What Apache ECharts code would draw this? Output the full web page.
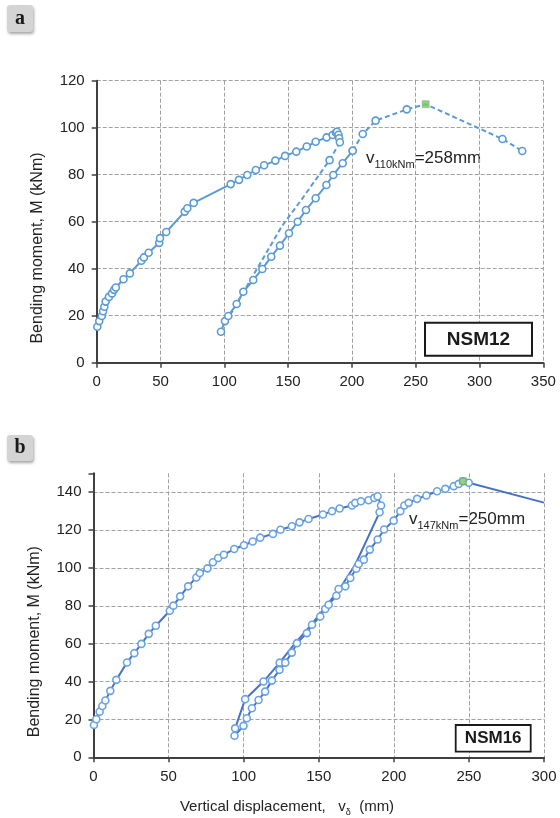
<!DOCTYPE html>
<html>
<head>
<meta charset="utf-8">
<script src="https://cdn.jsdelivr.net/npm/echarts@6/dist/echarts.min.js"></script>
<style>html,body{margin:0;padding:0;background:#fff}#c{width:560px;height:818px}</style>
</head>
<body>
<div id="c"></div>
<script>
// ---- Panel a (NSM12) ----
const aLoadV = [0.5,2,4,5,6,7,9.6,12,13.6,15,21,26,35,37,40.7,49,49.6,54.5,69,71,76,105,111.5,118,124.7,131.2,140,147.6,156.4,164.6,171.6,180.2,184.9,187.5,188.3,189.5,190,190.6];
const aLoadM = [15.3,17.7,19.9,21.9,23.8,26,28,29.5,31,32,35.5,38,43.4,44.8,46.8,51,53,55.6,64.3,65.7,68,76,77.8,79.9,82,84,86,88,89.8,92,94,95.9,96.9,97.9,98.3,97,95.5,93.8];
const aUnloadV = [190.6,182.5,160,145,130,115,100];
const aUnloadM = [93.8,86.2,69,58,44,30,16];
const aReloadV = [97.4,100.5,103.1,109.7,114.9,122.7,129.8,136.8,143.6,150.7,157.5,164,171.6,180,185.4,192.8,200.6];
const aReloadM = [13.2,17.7,19.9,25,30.2,35.2,39.9,45.1,49.8,55.1,60,65,70,75.6,79.9,84.9,90.2];
const aPostV = [200.6,208.5,218.6,243,257.8,318,333.5];
const aPostM = [90.2,97.3,103,107.8,110,95.2,90.1];
const aPeak = [257.8,110];
const aXTicks = [0,50,100,150,200,250,300,350];
const aYTicks = [0,20,40,60,80,100,120];

// ---- Panel b (NSM16) ----
const bLoadV = [0.3,1.9,4.1,5.9,7.9,11.2,15.2,22.3,27.2,31.9,36.8,41.5,50.8,53.2,57.7,63,68.5,70.8,75.9,79.5,83,86.8,93.7,100.2,106,111,119.5,124.5,132.1,137.2,143.2,152.8,158.8,163.9,172.1,174.3,178.1,183.2,187,189.2,191.5,190.5];
const bLoadM = [17.1,20.1,24.1,27.1,30,35.1,40.9,50.1,55,59.9,65.2,69.5,77.4,80.1,85,90.3,95,97.3,99.8,103,105.3,107,110,112,114,116,118,120.2,122,124.1,125.9,128.2,130,131.4,133,134.4,135.2,135.8,137,137.9,133,129.4];
const bUnloadV = [190.5,174.3,163,153,144,134,124,113.2,101,94.3];
const bUnloadM = [129.4,101.7,88,78,69,60,50,40,30.7,15.3];
const bReloadV = [93.9,99.9,102.1,105.5,109.9,114.3,118.8,123.9,127.7,132.1,135.5,142.1,145.5,151,154.3,156.6,161.7,163.2,167.7,171,175,176.6,180,184,189.2,193.5,199.9,204.3,207,209.9,215.5,221.7,228.8,234.3,239.9,243.2,246.1,249.9];
const bReloadM = [11.4,16.6,20.6,25.9,30.3,34.7,40.5,46.2,50,55.3,60.3,65.6,70,74.4,78.3,80.6,85.3,88.9,90.3,94.7,99.6,102.1,104.4,109.7,115,120.3,125,130,133,134.4,136.5,138.3,140.5,141.8,143.2,144.4,145.8,145];
const bPostV = [249.9,300];
const bPostM = [145,134.5];
const bPeak = [246.1,145.8];
const bXTicks = [0,50,100,150,200,250,300];
const bYTicks = [0,20,40,60,80,100,120,140];

const zip = (xs, ys) => xs.map((x, i) => [x, ys[i]]);

const colA = '#5b9bd5';
const colBLine = '#4a72c4';
const colBMark = '#6aa3e4';
const gridCol = '#a0a0a0';
const FONT = 'Liberation Sans, Arial, sans-serif';

function xAxis(gi, ticks, max) {
  return {
    type: 'value', gridIndex: gi, min: 0, max: max, interval: 50,
    axisLine: {show: true, onZero: false, lineStyle: {color: '#404040', width: 2}},
    axisTick: {show: true, length: 5, lineStyle: {color: '#404040', width: 1.5}},
    axisLabel: {margin: 12, color: '#222', fontSize: 15, fontFamily: FONT,
      formatter: v => ticks.indexOf(v) >= 0 ? String(v) : ''},
    splitLine: {show: true, lineStyle: {color: gridCol, type: [4, 2], width: 1}}
  };
}
function yAxis(gi, ticks, max, showMax) {
  return {
    type: 'value', gridIndex: gi, min: 0, max: max, interval: 20,
    axisLine: {show: true, onZero: false, lineStyle: {color: '#404040', width: 2}},
    axisTick: {show: true, length: 5, lineStyle: {color: '#404040', width: 1.5}},
    axisLabel: {margin: 12, color: '#222', fontSize: 15, fontFamily: FONT,
      formatter: v => ticks.indexOf(v) >= 0 ? String(v) : ''},
    splitLine: {show: true, showMaxLine: showMax, lineStyle: {color: gridCol, type: [4, 2], width: 1}}
  };
}

function markSeries(name, xi, data, lineCol, markCol, dashed) {
  return {
    name: name, type: 'line', xAxisIndex: xi, yAxisIndex: xi, data: data,
    symbol: 'circle', symbolSize: 7, showSymbol: true,
    lineStyle: {color: lineCol, width: 2, type: dashed ? [5, 3] : 'solid'},
    itemStyle: {color: '#ffffff', borderColor: markCol, borderWidth: 1.6},
    emphasis: {disabled: true}, animation: false, z: 3
  };
}

const aUnload = zip(aUnloadV, aUnloadM).map((p, i) => i === 1 ? {value: p} : {value: p, symbol: 'none'});
const bUnload = zip(bUnloadV, bUnloadM).map((p, i) => i >= 6 ? {value: p} : {value: p, symbol: 'none'});
const aPost = zip(aPostV, aPostM).map((p, i) => i === 4 ? {value: p, symbol: 'none'} : {value: p});
const bPost = zip(bPostV, bPostM).map(p => ({value: p, symbol: 'none'}));

const option = {
  backgroundColor: '#ffffff',
  animation: false,
  grid: [
    {left: 96.7, top: 80.7, width: 446.6, height: 282},
    {left: 93.5, top: 473.3, width: 450.5, height: 284}
  ],
  xAxis: [xAxis(0, aXTicks, 350), xAxis(1, bXTicks, 300)],
  yAxis: [yAxis(0, aYTicks, 120, true), yAxis(1, bYTicks, 150, false)],
  series: [
    markSeries('a-load', 0, zip(aLoadV, aLoadM), colA, colA, false),
    markSeries('a-unload', 0, aUnload, colA, colA, true),
    markSeries('a-reload', 0, zip(aReloadV, aReloadM), colA, colA, false),
    markSeries('a-post', 0, aPost, colA, colA, true),
    {type: 'scatter', xAxisIndex: 0, yAxisIndex: 0, data: [aPeak], symbol: 'rect', symbolSize: 7,
      itemStyle: {color: '#7cc46a', borderColor: '#5aa24a', borderWidth: 0.5}, z: 5, animation: false},
    markSeries('b-load', 1, zip(bLoadV, bLoadM), colBLine, colBMark, false),
    markSeries('b-unload', 1, bUnload, colBLine, colBMark, false),
    markSeries('b-reload', 1, zip(bReloadV, bReloadM), colBLine, colBMark, false),
    markSeries('b-post', 1, bPost, colBLine, colBMark, false),
    {type: 'scatter', xAxisIndex: 1, yAxisIndex: 1, data: [bPeak], symbol: 'rect', symbolSize: 7,
      itemStyle: {color: '#7cc46a', borderColor: '#5aa24a', borderWidth: 0.5}, z: 5, animation: false}
  ],
  graphic: [
    // panel labels
    {type: 'rect', shape: {x: 7, y: 5, width: 26, height: 27, r: 3},
      style: {fill: '#d4d4d4', shadowBlur: 3, shadowOffsetX: 1, shadowOffsetY: 2, shadowColor: 'rgba(0,0,0,0.35)'}},
    {type: 'text', x: 20, y: 18.5, style: {text: 'a', font: 'bold 20px "Liberation Serif", "DejaVu Serif", serif', fill: '#1a1a1a', align: 'center', verticalAlign: 'middle'}},
    {type: 'rect', shape: {x: 7, y: 435, width: 26, height: 26, r: 3},
      style: {fill: '#d4d4d4', shadowBlur: 3, shadowOffsetX: 1, shadowOffsetY: 2, shadowColor: 'rgba(0,0,0,0.35)'}},
    {type: 'text', x: 20, y: 447.5, style: {text: 'b', font: 'bold 20px "Liberation Serif", "DejaVu Serif", serif', fill: '#1a1a1a', align: 'center', verticalAlign: 'middle'}},
    // y-axis titles
    {type: 'text', x: 37.5, y: 248, rotation: Math.PI / 2,
      style: {text: 'Bending moment, M (kNm)', font: '16px ' + FONT, fill: '#222', align: 'center', verticalAlign: 'middle'}},
    {type: 'text', x: 35, y: 641.7, rotation: Math.PI / 2,
      style: {text: 'Bending moment, M (kNm)', font: '16px ' + FONT, fill: '#222', align: 'center', verticalAlign: 'middle'}},
    // x-axis title (b)
    {type: 'text', x: 287, y: 808,
      style: {text: '{m|Vertical displacement,   v}{s|δ}{m|  (mm)}', align: 'center', verticalAlign: 'middle', fill: '#222',
        rich: {m: {fontSize: 15, fontFamily: FONT, fill: '#222', verticalAlign: 'bottom', padding: [0, 0, 3, 0]},
               s: {fontSize: 9, fontFamily: FONT, fill: '#222', verticalAlign: 'bottom'}}}},
    // annotations
    {type: 'text', x: 366, y: 160,
      style: {text: '{m|v}{s|110kNm}{m|=258mm}', align: 'left', verticalAlign: 'middle', fill: '#222',
        rich: {m: {fontSize: 17, fontFamily: FONT, fill: '#222', verticalAlign: 'bottom', padding: [0, 0, 4, 0]},
               s: {fontSize: 11, fontFamily: FONT, fill: '#222', verticalAlign: 'bottom'}}}},
    {type: 'text', x: 409, y: 521,
      style: {text: '{m|v}{s|147kNm}{m|=250mm}', align: 'left', verticalAlign: 'middle', fill: '#222',
        rich: {m: {fontSize: 17, fontFamily: FONT, fill: '#222', verticalAlign: 'bottom', padding: [0, 0, 4, 0]},
               s: {fontSize: 11, fontFamily: FONT, fill: '#222', verticalAlign: 'bottom'}}}},
    // NSM boxes
    {type: 'rect', shape: {x: 425, y: 322.7, width: 107, height: 33}, style: {fill: '#fff', stroke: '#1a1a1a', lineWidth: 2}, z: 10},
    {type: 'text', x: 478.5, y: 339.5, z: 11, style: {text: 'NSM12', font: 'bold 19px ' + FONT, fill: '#1a1a1a', align: 'center', verticalAlign: 'middle'}},
    {type: 'rect', shape: {x: 455.7, y: 725, width: 75, height: 26.7}, style: {fill: '#fff', stroke: '#1a1a1a', lineWidth: 1.8}, z: 10},
    {type: 'text', x: 493.2, y: 738.5, z: 11, style: {text: 'NSM16', font: 'bold 17px ' + FONT, fill: '#1a1a1a', align: 'center', verticalAlign: 'middle'}}
  ]
};

const chart = echarts.init(document.getElementById('c'), null, {renderer: 'canvas'});
chart.setOption(option);
</script>
</body>
</html>
